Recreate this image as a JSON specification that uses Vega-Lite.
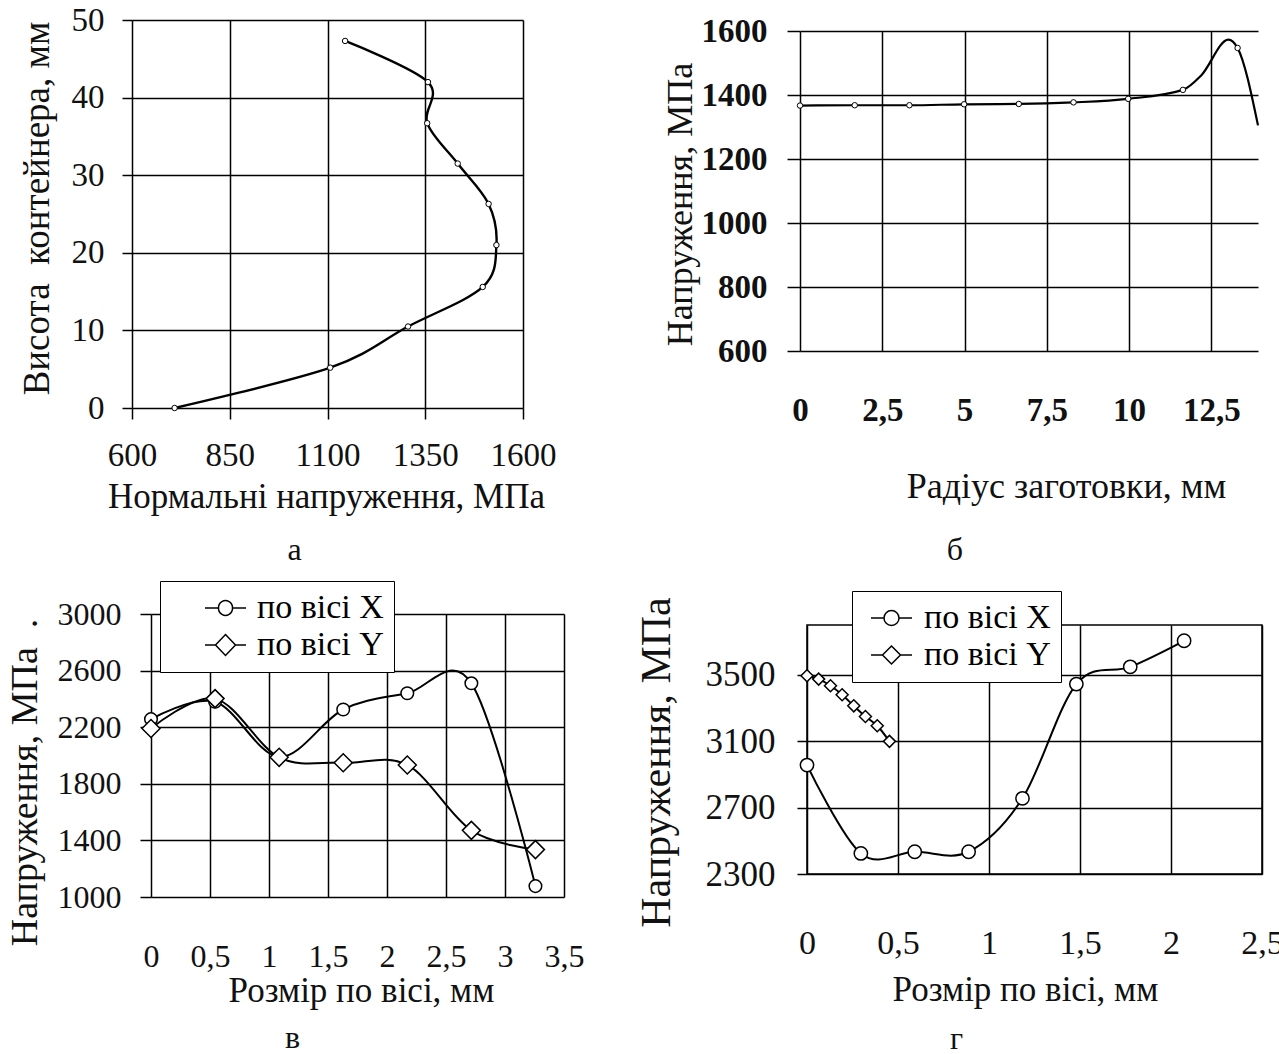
{
  "$schema": "https://vega.github.io/schema/vega-lite/v6.json",
  "background": "white",
  "padding": 0,
  "spacing": 0,
  "bounds": "flush",
  "resolve": {"scale": {"shape": "independent"}, "legend": {"shape": "independent"}},
  "config": {
    "view": {"stroke": null},
    "font": "Liberation Serif",
    "axis": {
      "labelFont": "Liberation Serif", "titleFont": "Liberation Serif",
      "labelColor": "#111", "titleColor": "#111",
      "titleFontWeight": "normal", "labelFontWeight": "normal",
      "gridColor": "#000", "gridOpacity": 1, "gridWidth": 1.5,
      "tickColor": "#000", "tickWidth": 1.5,
      "domain": false, "labelOverlap": false, "labelFlush": false,
      "titleAlign": "center"
    },
    "legend": {"labelFont": "Liberation Serif"},
    "title": {"font": "Liberation Serif", "fontWeight": "normal", "color": "#111"}
  },
  "hconcat": [
    {
      "concat": [
        {"data": {"values": []}, "mark": "point", "width": 17, "height": 4},
        {"data": {"values": []}, "mark": "point", "width": 1, "height": 1},
        {"data": {"values": []}, "mark": "point", "width": 1, "height": 1},
        {
          "data": {"values": [
            {"i": 0, "s": 709, "h": 0},
            {"i": 1, "s": 1107, "h": 5.2},
            {"i": 2, "s": 1306, "h": 10.5},
            {"i": 3, "s": 1497, "h": 15.6},
            {"i": 4, "s": 1532, "h": 21.0},
            {"i": 5, "s": 1512, "h": 26.3},
            {"i": 6, "s": 1433, "h": 31.5},
            {"i": 7, "s": 1355, "h": 36.7},
            {"i": 8, "s": 1357, "h": 42.0},
            {"i": 9, "s": 1145, "h": 47.3}
          ]},
          "width": 391, "height": 388,
          "title": {"text": "а", "orient": "bottom", "frame": "group", "anchor": "middle", "dx": -33, "offset": 21, "fontSize": 32},
          "encoding": {
            "x": {"field": "s", "type": "quantitative",
              "scale": {"domain": [600, 1600], "nice": false, "zero": false},
              "axis": {"title": "Нормальні напруження, МПа", "values": [600, 850, 1100, 1350, 1600], "format": "d",
                "grid": true, "ticks": true, "tickSize": 11, "labelFontSize": 33, "labelBaseline": "alphabetic", "labelPadding": 46,
                "titleFontSize": 35, "titleX": 194, "titleY": 99, "titleBaseline": "alphabetic"}},
            "y": {"field": "h", "type": "quantitative",
              "scale": {"domain": [0, 50], "nice": false, "zero": false},
              "axis": {"title": "Висота\u00a0 контейнера, мм", "values": [0, 10, 20, 30, 40, 50], "format": "d",
                "grid": true, "ticks": true, "tickSize": 10, "labelFontSize": 33, "labelPadding": 18, "labelBaseline": "middle",
                "titleFontSize": 37, "titleAngle": 270, "titleX": -84, "titleY": 188, "titleBaseline": "alphabetic"}}
          },
          "layer": [
            {"mark": {"type": "line", "interpolate": "cardinal", "color": "#000", "strokeWidth": 2.4},
             "encoding": {"order": {"field": "i", "type": "quantitative"}}},
            {"mark": {"type": "point", "shape": "circle", "size": 30, "filled": true, "fill": "white", "stroke": "#000", "strokeWidth": 1, "opacity": 1}}
          ]
        }
      ],
      "columns": 2, "spacing": 0, "bounds": "full", "align": "none",
      "resolve": {"scale": {"shape": "independent"}, "legend": {"shape": "independent"}}
    },
    {
      "concat": [
        {"data": {"values": []}, "mark": "point", "width": 662, "height": 15},
        {"data": {"values": []}, "mark": "point", "width": 1, "height": 1},
        {"data": {"values": []}, "mark": "point", "width": 1, "height": 1},
        {
          "data": {"values": [
            {"r": 0, "s": 1367, "kind": "point"},
            {"r": 1.6625, "s": 1368, "kind": "point"},
            {"r": 3.325, "s": 1368, "kind": "point"},
            {"r": 4.9875, "s": 1371, "kind": "point"},
            {"r": 6.65, "s": 1372, "kind": "point"},
            {"r": 8.3125, "s": 1377, "kind": "point"},
            {"r": 9.975, "s": 1388, "kind": "point"},
            {"r": 11.6375, "s": 1416, "kind": "point"},
            {"r": 12.2, "s": 1462, "kind": "curve"},
            {"r": 13.02, "s": 1573, "kind": "curve"},
            {"r": 13.3, "s": 1547, "kind": "point"},
            {"r": 13.92, "s": 1305, "kind": "curve"}
          ]},
          "width": 458, "height": 320,
          "title": {"text": "б", "orient": "bottom", "frame": "group", "anchor": "middle", "dx": -74, "offset": 31, "fontSize": 32},
          "encoding": {
            "x": {"field": "r", "type": "quantitative",
              "scale": {"domain": [0, 13.92], "nice": false, "zero": false},
              "axis": {"title": "Радіус заготовки, мм", "values": [0, 2.5, 5, 7.5, 10, 12.5], "format": ".3~g",
                "labelExpr": "replace(datum.label, '.', ',')",
                "grid": true, "ticks": false, "tickSize": 0, "labelFontSize": 33, "labelFontWeight": "bold", "labelBaseline": "alphabetic", "labelPadding": 69,
                "titleFontSize": 36, "titleX": 266, "titleY": 146, "titleBaseline": "alphabetic"}},
            "y": {"field": "s", "type": "quantitative",
              "scale": {"domain": [600, 1600], "nice": false, "zero": false},
              "axis": {"title": "Напруження, МПа", "values": [600, 800, 1000, 1200, 1400, 1600], "format": "d",
                "grid": true, "ticks": true, "tickSize": 13, "labelFontSize": 33, "labelFontWeight": "bold", "labelPadding": 20, "labelBaseline": "middle",
                "titleFontSize": 36, "titleAngle": 270, "titleX": -109, "titleY": 173, "titleBaseline": "alphabetic"}}
          },
          "layer": [
            {"mark": {"type": "line", "interpolate": "monotone", "color": "#000", "strokeWidth": 2.2}},
            {"transform": [{"filter": "datum.kind === 'point'"}],
             "mark": {"type": "point", "shape": "circle", "size": 30, "filled": true, "fill": "white", "stroke": "#000", "strokeWidth": 1, "opacity": 1}}
          ]
        }
      ],
      "columns": 2, "spacing": 0, "bounds": "full", "align": "none",
      "resolve": {"scale": {"shape": "independent"}, "legend": {"shape": "independent"}}
    },
    {
      "concat": [
        {"data": {"values": []}, "mark": "point", "width": 6, "height": 580},
        {"data": {"values": []}, "mark": "point", "width": 1, "height": 1},
        {"data": {"values": []}, "mark": "point", "width": 1, "height": 1},
        {
          "data": {"values": [
            {"series": "по вісі X", "r": 0, "s": 2257},
            {"series": "по вісі X", "r": 0.543, "s": 2380},
            {"series": "по вісі X", "r": 1.086, "s": 1990},
            {"series": "по вісі X", "r": 1.629, "s": 2325},
            {"series": "по вісі X", "r": 2.172, "s": 2440},
            {"series": "по вісі X", "r": 2.715, "s": 2510},
            {"series": "по вісі X", "r": 3.258, "s": 1077},
            {"series": "по вісі Y", "r": 0, "s": 2191},
            {"series": "по вісі Y", "r": 0.543, "s": 2402},
            {"series": "по вісі Y", "r": 1.086, "s": 1987},
            {"series": "по вісі Y", "r": 1.629, "s": 1949},
            {"series": "по вісі Y", "r": 2.172, "s": 1933},
            {"series": "по вісі Y", "r": 2.715, "s": 1471},
            {"series": "по вісі Y", "r": 3.258, "s": 1335}
          ]},
          "width": 413, "height": 283,
          "title": {"text": "в", "orient": "bottom", "frame": "group", "anchor": "middle", "dx": -65, "offset": 15, "fontSize": 32},
          "encoding": {
            "x": {"field": "r", "type": "quantitative",
              "scale": {"domain": [0, 3.5], "nice": false, "zero": false},
              "axis": {"title": "Розмір по вісі, мм", "values": [0, 0.5, 1, 1.5, 2, 2.5, 3, 3.5], "format": ".3~g",
                "labelExpr": "replace(datum.label, '.', ',')",
                "grid": true, "ticks": false, "tickSize": 0, "labelFontSize": 32, "labelBaseline": "alphabetic", "labelPadding": 69,
                "titleFontSize": 35, "titleX": 210, "titleY": 104, "titleBaseline": "alphabetic"}},
            "y": {"field": "s", "type": "quantitative",
              "scale": {"domain": [1000, 3000], "nice": false, "zero": false},
              "axis": {"title": "Напруження, МПа\u00a0\u00a0.", "values": [1000, 1400, 1800, 2200, 2600, 3000], "format": "d",
                "grid": true, "ticks": true, "tickSize": 11, "labelFontSize": 32, "labelPadding": 19, "labelBaseline": "middle",
                "titleFontSize": 38, "titleAngle": 270, "titleX": -115, "titleY": 168, "titleBaseline": "alphabetic"}}
          },
          "layer": [
            {"mark": {"type": "line", "interpolate": "cardinal", "color": "#000", "strokeWidth": 2},
             "encoding": {"detail": {"field": "series", "type": "nominal"}}},
            {"transform": [{"filter": "datum.series === 'по вісі X'"}],
             "mark": {"type": "point", "shape": "circle", "size": 158, "filled": true, "fill": "white", "stroke": "#000", "strokeWidth": 1.5, "opacity": 1}},
            {"transform": [{"filter": "datum.series === 'по вісі Y'"}],
             "mark": {"type": "point", "shape": "diamond", "size": 324, "filled": true, "fill": "white", "stroke": "#000", "strokeWidth": 1.5, "opacity": 1}},
            {"mark": {"type": "point", "filled": false, "color": "#000", "strokeWidth": 1.5, "opacity": 1, "size": 0},
             "encoding": {"shape": {"field": "series", "type": "nominal",
               "scale": {"domain": ["по вісі X", "по вісі Y"],
                 "range": ["M1.2,0H2.1M3.033,0H3.933M3.033,0A0.467,0.467,0,1,1,2.1,0A0.467,0.467,0,1,1,3.033,0Z",
                           "M1.2,0H1.9M3.233,0H3.933M2.567,-0.7L3.233,0L2.567,0.7L1.9,0Z"]},
               "legend": {"title": null, "orient": "none", "legendX": 9, "legendY": -33,
                 "fillColor": "white", "strokeColor": "#000", "padding": 10,
                 "labelFontSize": 34, "labelColor": "#000", "labelOffset": 53, "labelLimit": 400,
                 "symbolSize": 900, "symbolStrokeWidth": 1.5,
                 "rowPadding": 3, "labelExpr": "datum.value + '\u2007\u00a0'"}}}}
          ]
        }
      ],
      "columns": 2, "spacing": 0, "bounds": "full", "align": "none",
      "resolve": {"scale": {"shape": "independent"}, "legend": {"shape": "independent"}}
    },
    {
      "concat": [
        {"data": {"values": []}, "mark": "point", "width": 634, "height": 589},
        {"data": {"values": []}, "mark": "point", "width": 1, "height": 1},
        {"data": {"values": []}, "mark": "point", "width": 1, "height": 1},
        {
          "data": {"values": [
            {"series": "по вісі X", "r": 0, "s": 2956},
            {"series": "по вісі X", "r": 0.296, "s": 2424},
            {"series": "по вісі X", "r": 0.592, "s": 2434},
            {"series": "по вісі X", "r": 0.888, "s": 2434},
            {"series": "по вісі X", "r": 1.184, "s": 2756},
            {"series": "по вісі X", "r": 1.48, "s": 3444},
            {"series": "по вісі X", "r": 1.776, "s": 3548},
            {"series": "по вісі X", "r": 2.072, "s": 3705},
            {"series": "по вісі Y", "r": 0, "s": 3494},
            {"series": "по вісі Y", "r": 0.064, "s": 3474},
            {"series": "по вісі Y", "r": 0.129, "s": 3434},
            {"series": "по вісі Y", "r": 0.193, "s": 3380},
            {"series": "по вісі Y", "r": 0.257, "s": 3313},
            {"series": "по вісі Y", "r": 0.321, "s": 3249},
            {"series": "по вісі Y", "r": 0.386, "s": 3193},
            {"series": "по вісі Y", "r": 0.453, "s": 3099}
          ]},
          "width": 455, "height": 249,
          "view": {"stroke": "#000", "strokeWidth": 1.5},
          "title": {"text": "г", "orient": "bottom", "frame": "group", "anchor": "middle", "dx": -78, "offset": 17, "fontSize": 32},
          "encoding": {
            "x": {"field": "r", "type": "quantitative",
              "scale": {"domain": [0, 2.5], "nice": false, "zero": false},
              "axis": {"title": "Розмір по вісі, мм", "values": [0, 0.5, 1, 1.5, 2, 2.5], "format": ".3~g",
                "labelExpr": "replace(datum.label, '.', ',')",
                "grid": true, "ticks": false, "tickSize": 0, "labelFontSize": 34, "labelBaseline": "alphabetic", "labelPadding": 79,
                "titleFontSize": 35, "titleX": 218, "titleY": 126, "titleBaseline": "alphabetic"}},
            "y": {"field": "s", "type": "quantitative",
              "scale": {"domain": [2300, 3800], "nice": false, "zero": false},
              "axis": {"title": "Напруження, МПа", "values": [2300, 2700, 3100, 3500], "format": "d",
                "grid": true, "ticks": true, "tickSize": 10, "labelFontSize": 35, "labelPadding": 22, "labelBaseline": "middle",
                "titleFontSize": 42, "titleAngle": 270, "titleX": -138, "titleY": 137, "titleBaseline": "alphabetic"}}
          },
          "layer": [
            {"mark": {"type": "line", "interpolate": "cardinal", "color": "#000", "strokeWidth": 2},
             "encoding": {"detail": {"field": "series", "type": "nominal"}}},
            {"transform": [{"filter": "datum.series === 'по вісі X'"}],
             "mark": {"type": "point", "shape": "circle", "size": 177, "filled": true, "fill": "white", "stroke": "#000", "strokeWidth": 1.5, "opacity": 1}},
            {"transform": [{"filter": "datum.series === 'по вісі Y'"}],
             "mark": {"type": "point", "shape": "diamond", "size": 144, "filled": true, "fill": "white", "stroke": "#000", "strokeWidth": 1.5, "opacity": 1}},
            {"mark": {"type": "point", "filled": false, "color": "#000", "strokeWidth": 1.5, "opacity": 1, "size": 0},
             "encoding": {"shape": {"field": "series", "type": "nominal",
               "scale": {"domain": ["по вісі X", "по вісі Y"],
                 "range": ["M-0.533,0H0.333M1.333,0H2.2M1.333,0A0.5,0.5,0,1,1,0.333,0A0.5,0.5,0,1,1,1.333,0Z",
                           "M-0.533,0H0.233M1.433,0H2.2M0.833,-0.6L1.433,0L0.833,0.6L0.233,0Z"]},
               "legend": {"title": null, "orient": "none", "legendX": 45, "legendY": -34,
                 "fillColor": "white", "strokeColor": "#000", "padding": 10,
                 "labelFontSize": 34, "labelColor": "#000", "labelOffset": 28, "labelLimit": 400,
                 "symbolSize": 900, "symbolStrokeWidth": 1.5,
                 "rowPadding": 3}}}}
          ]
        }
      ],
      "columns": 2, "spacing": 0, "bounds": "full", "align": "none",
      "resolve": {"scale": {"shape": "independent"}, "legend": {"shape": "independent"}}
    }
  ]
}
